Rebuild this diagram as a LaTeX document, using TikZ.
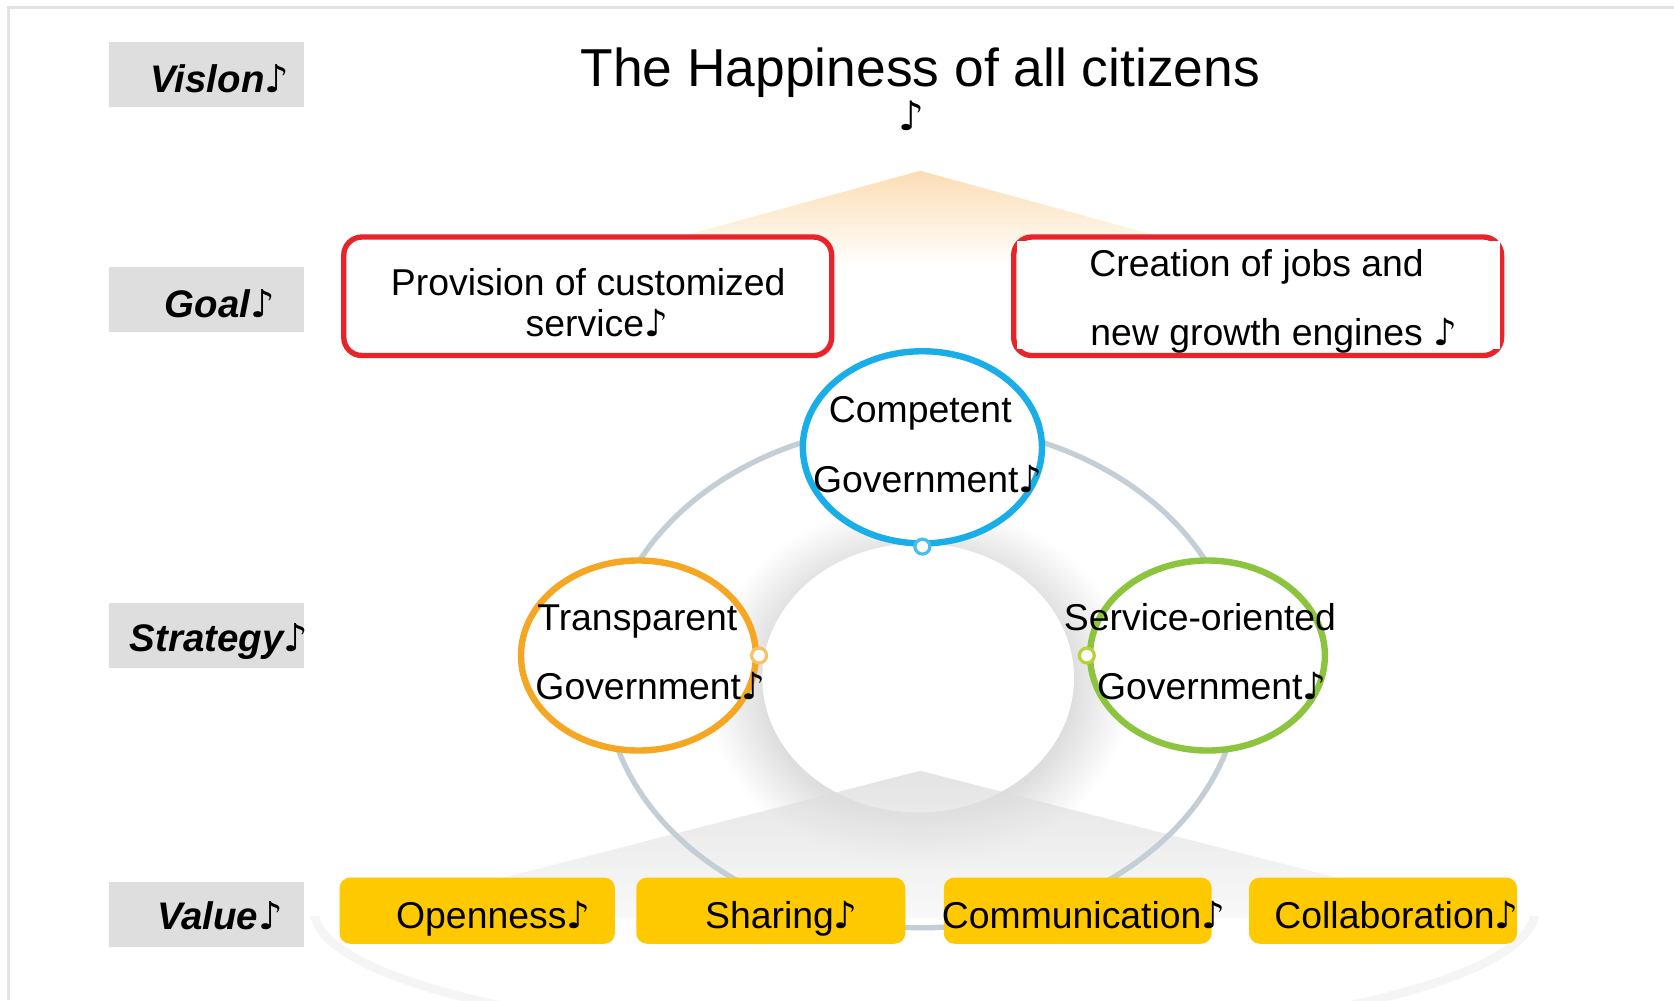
\documentclass[tikz,border=0pt]{standalone}
\usepackage{fontspec}
\setmainfont{Liberation Sans}
\newfontfamily\notefont{DejaVu Sans}
\newcommand\mnote{{\notefont ♪}}
\usetikzlibrary{shapes.geometric}
\definecolor{frameg}{HTML}{E3E3E3}
\definecolor{labelg}{HTML}{DEDEDE}
\definecolor{goalred}{HTML}{E8232A}
\definecolor{ringg}{HTML}{C3CED6}
\definecolor{compblue}{HTML}{1AAEE8}
\definecolor{transor}{HTML}{F5A623}
\definecolor{servgreen}{HTML}{8CC43F}
\definecolor{smallgreen}{HTML}{B5D334}
\definecolor{valyellow}{HTML}{FFC900}
\definecolor{roofor}{HTML}{FCDDB4}
\pgfdeclareradialshading{halo}{\pgfpoint{0bp}{0bp}}{color(0bp)=(black!13); color(18bp)=(black!13); color(25bp)=(white); color(50bp)=(white)}
\tikzset{
  labelbox/.style={rectangle, fill=labelg, minimum width=91.5pt, minimum height=30.5pt, inner sep=0pt},
  labeltext/.style={anchor=base, inner sep=0pt, font=\fontsize{18pt}{21pt}\selectfont\bfseries\itshape},
  goalbox/.style={rectangle, draw=goalred, line width=2.5pt, fill=white, rounded corners=8.5pt, minimum width=228.5pt, minimum height=55.5pt, inner sep=0pt},
  valbox/.style={rectangle, fill=valyellow, rounded corners=5pt, minimum height=31pt, inner sep=0pt},
  govcircle/.style={ellipse, fill=white, line width=3pt, inner sep=0pt},
  dot/.style={circle, fill=white, line width=1.5pt, minimum size=7pt, inner sep=0pt},
  txt/.style={anchor=base, inner sep=0pt, font=\fontsize{17.5pt}{21pt}\selectfont},
  txtw/.style={anchor=base west, inner sep=0pt, font=\fontsize{17.5pt}{21pt}\selectfont},
}
\begin{document}
\begin{tikzpicture}[x=0.5pt,y=-0.5pt]
\useasboundingbox (0,0) rectangle (1568,937);
\clip (0,0) rectangle (1568,937);
\fill[white] (0,0) rectangle (1568,937);
% frame
\draw[frameg, line width=1.5pt] (8,937) -- (8,7) -- (1568,7);
% orange roof glow
\shade[top color=roofor, bottom color=white] (862,160) -- (1190,250) -- (534,250) -- cycle;
% faint floor ellipse (lower part only)
\begin{scope}
\clip (0,858) rectangle (1568,937);
\draw[black!4, line width=4pt] (866,852) ellipse [x radius=572, y radius=125];
\end{scope}
% halo and inner disk
\shade[shading=halo] (860,642) ellipse [x radius=200, y radius=172];
\fill[white] (860,635) ellipse [x radius=146, y radius=126];
% gray roof
\shade[top color=black!15, bottom color=black!3, opacity=0.7] (862,722) -- (1400,860) -- (324,860) -- cycle;
% ring
\draw[ringg, line width=2.5pt] (864,633) ellipse [x radius=298, y radius=236];
% strategy circles
\node[govcircle, draw=compblue, minimum width=112pt, minimum height=90pt] (comp) at (864,419) {};
\node[govcircle, draw=transor, minimum width=110pt, minimum height=89pt] (trans) at (598,614) {};
\node[govcircle, draw=servgreen, minimum width=110pt, minimum height=89pt] (serv) at (1131,614) {};
\node[dot, draw=compblue!80] (compdot) at (comp.south) {};
\node[dot, draw=transor!70] (transdot) at (trans.east) {};
\node[dot, draw=smallgreen] (servdot) at (serv.west) {};
% goal boxes
\node[goalbox] (goal1) at (550.5,277.5) {};
\node[goalbox] (goal2) at (1178,277.5) {};
\fill[white] (953,226) rectangle (1405,327);
% value boxes
\node[valbox, minimum width=129pt] (val1) at (447,853) {};
\node[valbox, minimum width=126pt] (val2) at (722,853) {};
\node[valbox, minimum width=125.5pt] (val3) at (1009.5,853) {};
\node[valbox, minimum width=125.5pt] (val4) at (1295.5,853) {};
% label boxes
\node[labelbox] (lvision) at (193.5,70) {};
\node[labelbox] (lgoal) at (193.5,280.5) {};
\node[labelbox] (lstrat) at (193.5,595.5) {};
\node[labelbox] (lvalue) at (193.5,856.5) {};
\node[labeltext] (tvision) at (206,87) {Vislon\mnote};
\node[labeltext] (tgoal) at (206,297) {Goal\mnote};
\node[labeltext] (tstrat) at (205,610) {Strategy\mnote};
\node[labeltext] (tvalue) at (206,871) {Value\mnote};
% title
\node[anchor=base, inner sep=0pt, font=\fontsize{25pt}{30pt}\selectfont] (title) at (862,81) {The Happiness of all citizens};
\node[anchor=base, inner sep=0pt, font=\fontsize{19pt}{21pt}\selectfont] (titlenote) at (854,122) {\mnote};
% goal texts
\node[txt] (g1a) at (551,277) {Provision of customized};
\node[txt] (g1b) at (559,315) {service\mnote};
\node[txtw] (g2a) at (1020,259) {Creation of jobs and};
\node[txtw] (g2b) at (1021,324) {new growth engines \mnote};
% circle texts
\node[txt] (c1a) at (862,396) {Competent};
\node[txt] (c1b) at (869,461) {Government\mnote};
\node[txt] (c2a) at (597,591) {Transparent};
\node[txt] (c2b) at (609,655) {Government\mnote};
\node[txt] (c3a) at (1124,591) {Service-oriented};
\node[txt] (c3b) at (1135,655) {Government\mnote};
% value texts
\node[txt] (v1) at (462,870) {Openness\mnote};
\node[txt] (v2) at (732,870) {Sharing\mnote};
\node[txt] (v3) at (1015,870) {Communication\mnote};
\node[txt] (v4) at (1308,870) {Collaboration\mnote};
\end{tikzpicture}
\end{document}
